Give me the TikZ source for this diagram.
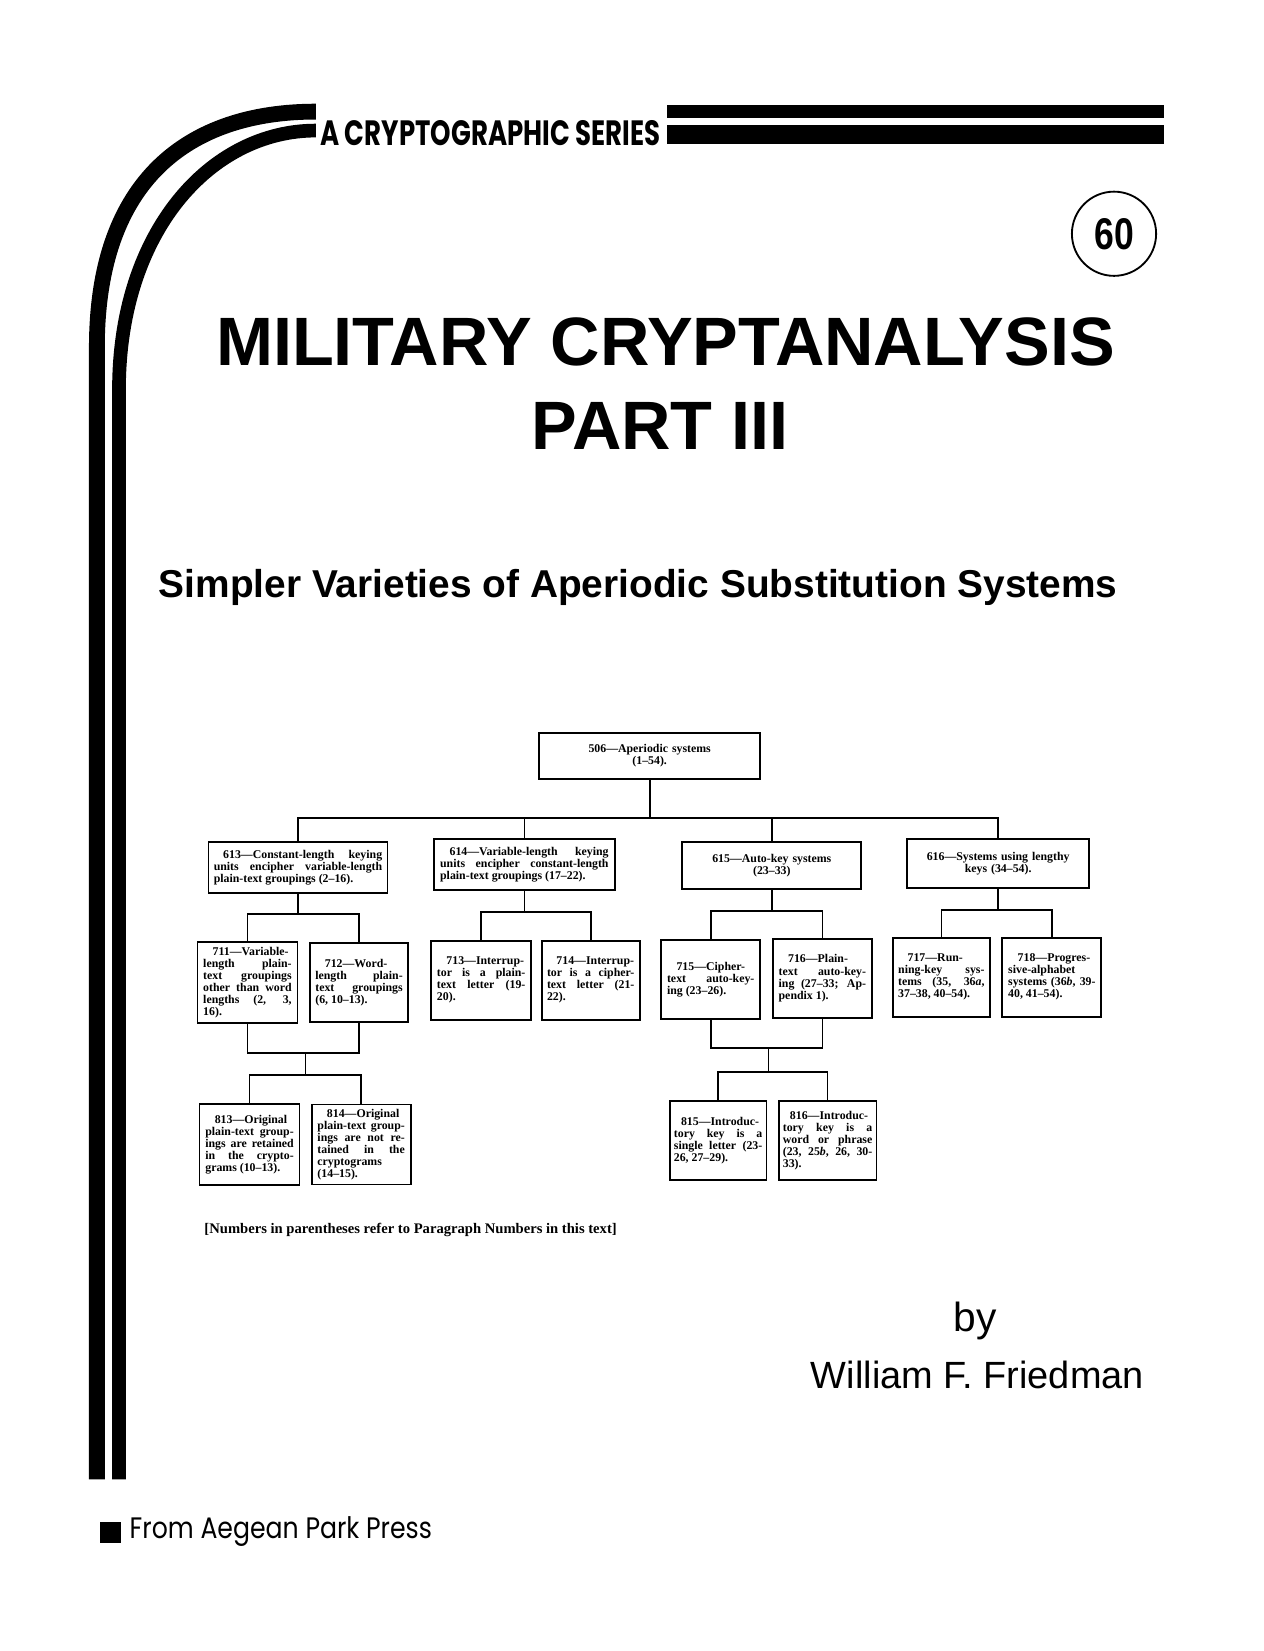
\documentclass[tikz,border=0pt]{standalone}
\usepackage{fontspec}
\usepackage{graphicx}
\setmainfont[Ligatures=TeX]{Liberation Sans}
\newfontfamily\chartfont[Ligatures=TeX]{Liberation Serif}
\newfontfamily\pressfont[Ligatures=TeX]{Poppins}
\usetikzlibrary{positioning}

\tikzset{
  kbox/.style n args={3}{draw=black, line width=1pt, inner sep=2pt,
    minimum width=#1cm, minimum height=#2cm, text width=#3cm, align=justify,
    font=\chartfont\bfseries\fontsize{6.4}{6.5}\selectfont},
  kline/.style={line width=0.9pt},
  bar/.style={line width=#1, line cap=butt}
}
\newcommand{\ind}{\hspace*{0.8em}}

\begin{document}
\begin{tikzpicture}[x=0.02cm,y=-0.02cm]
\useasboundingbox (0,0) rectangle (1200,1568);

% swoosh and series band
\draw[bar=0.3cm] (92,1405) -- (92,330) .. controls (92,170) and (180,106) .. (300,106);
\draw[bar=0.26cm] (113,1405) -- (113,370) .. controls (113,220) and (200,124) .. (300,124);
\fill (633,100) rectangle (1105,112);
\fill (633,119) rectangle (1105,137);
\node[font=\pressfont\bfseries\fontsize{19}{19}\selectfont, anchor=west] (series) at (298,126)
  {\scalebox{0.74}[1]{A CRYPTOGRAPHIC SERIES}};

% number and titles
\node[draw, circle, line width=1pt, minimum size=1.6cm, font=\fontsize{24}{24}\selectfont\bfseries] (num) at (1058,222) {\scalebox{0.8}[1]{60}};
\node[font=\bfseries\fontsize{37}{37}\selectfont] (title) at (632,325) {MILITARY CRYPTANALYSIS};
\node[font=\bfseries\fontsize{37}{37}\selectfont] (part) at (627,405) {PART III};
\node[font=\bfseries\fontsize{21}{21}\selectfont] (sub) at (606,558) {Simpler Varieties of Aperiodic Substitution Systems};

% chart boxes
\node[kbox={4.2}{0.86}{3.6}, align=center] (n506) at (617,718) {506—Aperiodic systems\\(1–54).};
\node[kbox={3.4}{0.96}{3.2}] (n613) at (283,824) {\ind613—Constant-length keying\linebreak units encipher variable-length\linebreak plain-text groupings (2–16).};
\node[kbox={3.44}{0.96}{3.2}] (n614) at (498,821) {\ind614—Variable-length keying\linebreak units encipher constant-length\linebreak plain-text groupings (17–22).};
\node[kbox={3.4}{0.9}{3.1}, align=center] (n615) at (733,822) {615—Auto-key systems\\(23–33)};
\node[kbox={3.46}{0.92}{3.1}, align=center] (n616) at (948,820) {616—Systems using lengthy\\keys (34–54).};

\node[kbox={1.9}{1.54}{1.68}] (n711) at (235,933) {\ind711—Variable-\linebreak length plain-\linebreak text groupings\linebreak other than word\linebreak lengths (2, 3,\linebreak 16).};
\node[kbox={1.86}{1.5}{1.66}] (n712) at (341,933) {\ind712—Word-\linebreak length plain-\linebreak text groupings\linebreak (6, 10–13).};
\node[kbox={1.9}{1.5}{1.68}] (n713) at (457,931) {\ind713—Interrup-\linebreak tor is a plain-\linebreak text letter (19-\linebreak 20).};
\node[kbox={1.86}{1.5}{1.66}] (n714) at (561,931) {\ind714—Interrup-\linebreak tor is a cipher-\linebreak text letter (21-\linebreak 22).};
\node[kbox={1.88}{1.5}{1.66}] (n715) at (675,930) {\ind715—Cipher-\linebreak text auto-key-\linebreak ing (23–26).};
\node[kbox={1.88}{1.5}{1.66}] (n716) at (781,929) {\ind716—Plain-\linebreak text auto-key-\linebreak ing (27–33; Ap-\linebreak pendix 1).};
\node[kbox={1.84}{1.5}{1.64}] (n717) at (894,928) {\ind717—Run-\linebreak ning-key sys-\linebreak tems (35, 36\textit{a},\linebreak 37–38, 40–54).};
\node[kbox={1.88}{1.5}{1.66}] (n718) at (999,928) {\ind718—Progres-\linebreak sive-alphabet\linebreak systems (36\textit{b}, 39-\linebreak 40, 41–54).};

\node[kbox={1.9}{1.54}{1.68}] (n813) at (237,1087) {\ind813—Original\linebreak plain-text group-\linebreak ings are retained\linebreak in the crypto-\linebreak grams (10–13).};
\node[kbox={1.88}{1.52}{1.66}] (n814) at (343,1087) {\ind814—Original\linebreak plain-text group-\linebreak ings are not re-\linebreak tained in the\linebreak cryptograms\linebreak (14–15).};
\node[kbox={1.84}{1.5}{1.68}] (n815) at (682,1083) {\hspace*{0.6em}\mbox{815—Introduc-}\linebreak tory key is a\linebreak single letter (23-\linebreak 26, 27–29).};
\node[kbox={1.86}{1.5}{1.7}] (n816) at (786,1083) {\hspace*{0.6em}\mbox{816—Introduc-}\linebreak tory key is a\linebreak word or phrase\linebreak (23, 25\textit{b}, 26, 30-\linebreak 33).};

% junction points
\coordinate (bus) at (620,777);
\coordinate (j613) at (285,868);
\coordinate (j614) at (500,866);
\coordinate (j615) at (735,865);
\coordinate (j616) at (950,864);
\coordinate (j711) at (290,1000);
\coordinate (j813) at (290,1021);
\coordinate (j715) at (730,995);
\coordinate (j815) at (730,1018);

% connectors
\draw[kline] (n506.south) -- (n506.south |- bus);
\draw[kline] (n613.north) |- (bus) -| (n616.north);
\draw[kline] (n614.north) -- (n614.north |- bus);
\draw[kline] (n615.north) -- (n615.north |- bus);
\draw[kline] (n613.south) -- (n613.south |- j613);
\draw[kline] (n711.north) |- (j613) -| (n712.north);
\draw[kline] (n614.south) -- (n614.south |- j614);
\draw[kline] (n713.north) |- (j614) -| (n714.north);
\draw[kline] (n615.south) -- (n615.south |- j615);
\draw[kline] (n715.north) |- (j615) -| (n716.north);
\draw[kline] (n616.south) -- (n616.south |- j616);
\draw[kline] (n717.north) |- (j616) -| (n718.north);
\draw[kline] (n711.south) |- (j711) -| (n712.south);
\draw[kline] (j711) -- (j813);
\draw[kline] (n813.north) |- (j813) -| (n814.north);
\draw[kline] (n715.south) |- (j715) -| (n716.south);
\draw[kline] (j715) -- (j815);
\draw[kline] (n815.north) |- (j815) -| (n816.north);

\node[anchor=west, font=\chartfont\bfseries\fontsize{7.9}{8}\selectfont] (note) at (188,1168)
  {[Numbers in parentheses refer to Paragraph Numbers in this text]};

% author and press
\node[font=\fontsize{22}{22}\selectfont] (by) at (926,1255) {by};
\node[anchor=west, font=\fontsize{20.5}{20.5}\selectfont] (author) at (764,1306) {William F. Friedman};
\fill (95,1445) rectangle (115,1465);
\node[anchor=west, font=\pressfont\fontsize{16}{16}\selectfont] (press) at (117,1455) {\scalebox{0.85}[1]{From Aegean Park Press}};
\end{tikzpicture}
\end{document}
